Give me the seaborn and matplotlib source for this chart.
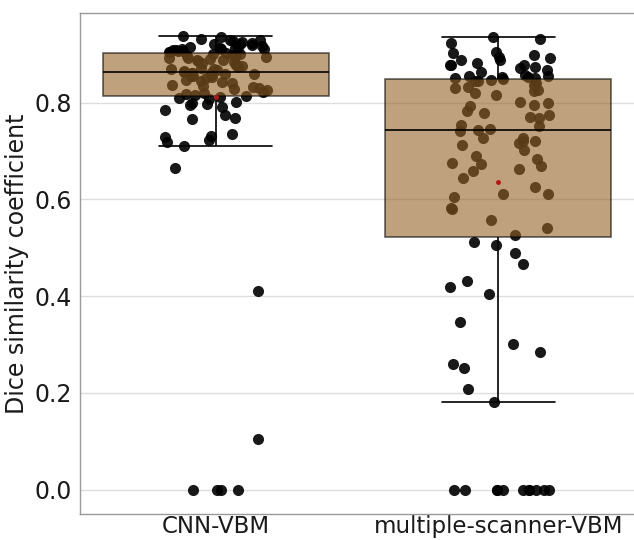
import numpy as np
import pandas as pd
import matplotlib
matplotlib.use("Agg")
import matplotlib.pyplot as plt
import seaborn as sns

# ------------------------------------------------------------
# dados
# ------------------------------------------------------------
metodos = ['CNN-VBM', 'multiple-scanner-VBM']

dice_cnn = [
    0.0, 0.0, 0.0, 0.0,
    0.105, 0.41, 0.664,
    0.71, 0.718, 0.722, 0.728, 0.73, 0.735, 0.765, 0.768, 0.775, 0.785,
    0.79, 0.795, 0.797, 0.80, 0.802,
    0.808, 0.81, 0.812, 0.813, 0.815,
    0.818, 0.82, 0.822, 0.825, 0.828, 0.83, 0.832, 0.835, 0.837, 0.84,
    0.842, 0.845, 0.847, 0.85, 0.852, 0.854, 0.855, 0.857, 0.858, 0.86,
    0.861, 0.862, 0.862,
    0.863, 0.865, 0.867, 0.869, 0.87, 0.872, 0.874, 0.876, 0.878, 0.88,
    0.882, 0.884, 0.885, 0.887, 0.888, 0.89, 0.892, 0.893, 0.895, 0.896,
    0.898, 0.899, 0.9, 0.901, 0.903,
    0.904, 0.905, 0.906, 0.907, 0.908, 0.909, 0.91, 0.91, 0.911, 0.912,
    0.913, 0.914, 0.915, 0.916, 0.918, 0.92, 0.921, 0.923, 0.925, 0.927,
    0.929, 0.93, 0.932, 0.935, 0.937,
]

dice_multi = [
    0.0, 0.0, 0.0, 0.0, 0.0, 0.0, 0.0, 0.0, 0.0, 0.0, 0.0,
    0.182, 0.208, 0.251, 0.259, 0.285, 0.302, 0.347, 0.405, 0.419, 0.431,
    0.467, 0.49, 0.505, 0.511,
    0.526, 0.541, 0.557, 0.58, 0.583, 0.605, 0.611, 0.611, 0.625, 0.644,
    0.658, 0.663, 0.668, 0.673, 0.676, 0.684, 0.69, 0.702, 0.712, 0.717,
    0.72, 0.72, 0.726, 0.727, 0.741,
    0.744, 0.745, 0.751, 0.753, 0.769, 0.771, 0.775, 0.778, 0.782, 0.792,
    0.795, 0.799, 0.802, 0.816, 0.819, 0.823, 0.826, 0.83, 0.833, 0.837,
    0.84, 0.844, 0.845, 0.846, 0.848,
    0.85, 0.851, 0.852, 0.852, 0.854, 0.854, 0.857, 0.864, 0.868, 0.871,
    0.874, 0.878, 0.878, 0.878, 0.881, 0.888, 0.888, 0.892, 0.895, 0.898,
    0.902, 0.904, 0.922, 0.931, 0.936,
]

df = pd.DataFrame({
    'metodo': [metodos[0]] * len(dice_cnn) + [metodos[1]] * len(dice_multi),
    'dice': dice_cnn + dice_multi,
})

# ------------------------------------------------------------
# gráfico
# ------------------------------------------------------------
sns.set_style("whitegrid")
plt.rcParams['font.family'] = ['DejaVu Sans']

fig, ax = plt.subplots(figsize=(6.34, 5.4), dpi=100)
fig.subplots_adjust(left=80/634, right=1.0, bottom=1-514/540, top=1-13/540)

np.random.seed(3)
sns.stripplot(data=df, x='metodo', y='dice', order=metodos, color='black',
              alpha=0.9, size=8, jitter=0.19, zorder=1, ax=ax)

sns.boxplot(data=df, x='metodo', y='dice', order=metodos, color='#966228',
            saturation=1, width=0.8, showfliers=False, showmeans=True,
            linecolor='black', linewidth=1.2,
            boxprops=dict(alpha=0.6, zorder=2),
            meanprops=dict(marker='o', markerfacecolor='#b01818',
                           markeredgecolor='#b01818', markersize=2.5),
            ax=ax)

ax.set_ylim(-0.05, 0.985)
ax.set_xlim(-0.48, 1.48)
ax.set_xlabel('')
ax.set_ylabel('Dice similarity coefficient', fontsize=17, color='#1a1a1a')
ax.tick_params(axis='y', labelsize=17, length=4, color='#cccccc', pad=2,
               labelcolor='#1a1a1a')
ax.tick_params(axis='x', labelsize=16.5, length=1, color='#cccccc', pad=0,
               labelcolor='#1a1a1a')
ax.set_yticks([0.0, 0.2, 0.4, 0.6, 0.8])
ax.grid(axis='x', visible=False)
ax.grid(axis='y', color='#dddddd', linewidth=1)
for lado in ['left', 'bottom', 'top']:
    ax.spines[lado].set_color('#999999')
    ax.spines[lado].set_linewidth(1)
ax.spines['right'].set_visible(False)

plt.savefig('out.png', dpi=100)
